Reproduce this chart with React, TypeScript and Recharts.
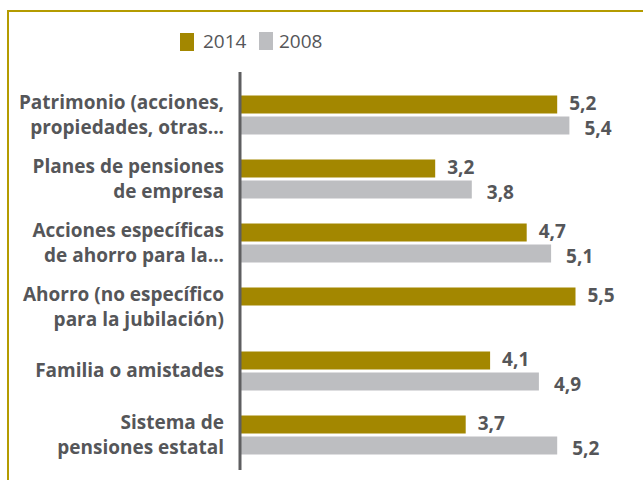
import React from 'react';
import { BarChart, Bar, XAxis, YAxis, Legend, LabelList } from 'recharts';

const categories = [
  'Patrimonio (acciones,\npropiedades, otras...',
  'Planes de pensiones\nde empresa',
  'Acciones específicas\nde ahorro para la...',
  'Ahorro (no específico\npara la jubilación)',
  'Familia o amistades',
  'Sistema de\npensiones estatal',
];
const values2014: (number | null)[] = [5.2, 3.2, 4.7, 5.5, 4.1, 3.7];
const values2008: (number | null)[] = [5.4, 3.8, 5.1, null, 4.9, 5.2];
const seriesNames = ['2014', '2008'];
const seriesColors = ['#A38700', '#BDBEC1'];

const data = categories.map((c, i) => ({ cat: c, s2014: values2014[i], s2008: values2008[i] }));

const FONT = '"Open Sans", "Noto Sans", sans-serif';
const TEXT = '#555659';

const CatTick = (props: any) => {
  const { x, y, payload } = props;
  const lines: string[] = String(payload.value).split('\n');
  const lh = 25;
  const start = -((lines.length - 1) * lh) / 2;
  return (
    <text x={x - 8} y={y} textAnchor="end" fill={TEXT} fontFamily={FONT} fontWeight={700} fontSize={19}>
      {lines.map((l, i) => (
        <tspan key={i} x={x - 8} y={y + start + i * lh} dy="0.36em">{l}</tspan>
      ))}
    </text>
  );
};

const makeLabel = (dy: number, dx: number) => (props: any) => {
  const { x, y, width, height, value } = props;
  if (value === null || value === undefined) return null;
  return (
    <text x={x + width + dx} y={y + height / 2 + dy} dy="0.36em" fill={TEXT} fontFamily={FONT} fontWeight={700} fontSize={19}>
      {String(value).replace('.', ',')}
    </text>
  );
};

const LegendContent = () => (
  <div style={{ position: 'relative', height: 30, fontFamily: FONT, fontSize: 19, color: TEXT }}>
    <div style={{ position: 'absolute', left: 180, top: 6, width: 14, height: 18, background: seriesColors[0] }} />
    <div style={{ position: 'absolute', left: 203, top: 0, lineHeight: '28px' }}>{seriesNames[0]}</div>
    <div style={{ position: 'absolute', left: 259, top: 5, width: 14, height: 18, background: seriesColors[1] }} />
    <div style={{ position: 'absolute', left: 279, top: 0, lineHeight: '28px' }}>{seriesNames[1]}</div>
  </div>
);

export default function App() {
  return (
    <div style={{ position: 'absolute', left: 0, top: 0, width: 643, height: 480, overflow: 'hidden', background: '#fff' }}>
      <div style={{ position: 'absolute', left: 0, top: 0 }}>
        <BarChart
          width={643}
          height={480}
          data={data}
          layout="vertical"
          margin={{ top: 42, right: 37, bottom: 10, left: 0 }}
          barSize={18}
          barGap={3}
        >
          <XAxis type="number" domain={[0, 6]} hide />
          <YAxis
            type="category"
            dataKey="cat"
            width={240}
            axisLine={{ stroke: '#5E5E60', strokeWidth: 3 }}
            tickLine={false}
            tick={<CatTick />}
            padding={{ top: 10.5, bottom: 3.5 }}
            interval={0}
          />
          <Legend verticalAlign="top" wrapperStyle={{ top: 27, left: 0, width: 643 }} content={<LegendContent />} />
          <Bar dataKey="s2014" name={seriesNames[0]} fill={seriesColors[0]} isAnimationActive={false}>
            <LabelList dataKey="s2014" content={makeLabel(-1, 12)} />
          </Bar>
          <Bar dataKey="s2008" name={seriesNames[1]} fill={seriesColors[1]} isAnimationActive={false}>
            <LabelList dataKey="s2008" content={makeLabel(3, 15)} />
          </Bar>
        </BarChart>
      </div>
      <div style={{ position: 'absolute', left: 7, top: 10, width: 700, height: 520, borderTop: '2px solid #B49B00', borderLeft: '2px solid #B49B00', boxSizing: 'border-box', pointerEvents: 'none' }} />
    </div>
  );
}
